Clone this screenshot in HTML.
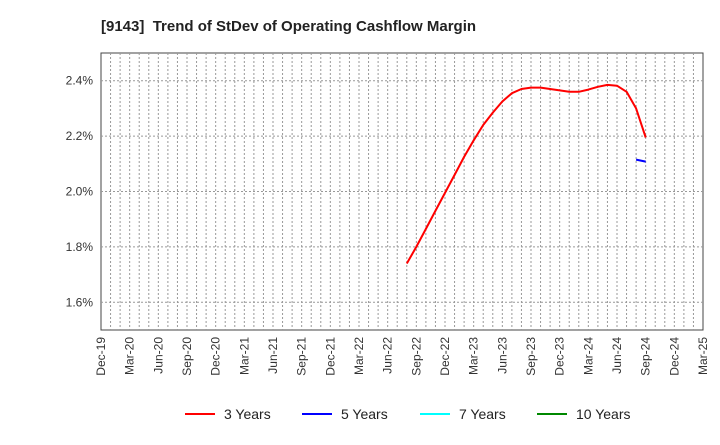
<!DOCTYPE html>
<html><head><meta charset="utf-8"><style>
body{margin:0;background:#fff;font-family:"Liberation Sans",sans-serif}
svg text{font-family:"Liberation Sans",sans-serif}
</style></head><body>
<svg width="720" height="440" xmlns="http://www.w3.org/2000/svg">
<text x="101" y="31" font-size="15" font-weight="bold" fill="#222" style="white-space:pre">[9143]  Trend of StDev of Operating Cashflow Margin</text>
<rect x="101" y="53" width="602" height="277" fill="#fff" stroke="#444" stroke-width="1"/>
<g id="grid"></g>
<g id="series"></g>
<g id="axes"></g>
<g>
<line x1="185" y1="414" x2="215" y2="414" stroke="#f00" stroke-width="2"/>
<text x="224" y="419" font-size="14" fill="#222">3 Years</text>
<line x1="302" y1="414" x2="332" y2="414" stroke="#00f" stroke-width="2"/>
<text x="341" y="419" font-size="14" fill="#222">5 Years</text>
<line x1="420" y1="414" x2="450" y2="414" stroke="#0ff" stroke-width="2"/>
<text x="459" y="419" font-size="14" fill="#222">7 Years</text>
<line x1="537" y1="414" x2="567" y2="414" stroke="#080" stroke-width="2"/>
<text x="576" y="419" font-size="14" fill="#222">10 Years</text>
</g>
</svg>
<script>
const xLabels=["Dec-19","Mar-20","Jun-20","Sep-20","Dec-20","Mar-21","Jun-21","Sep-21","Dec-21","Mar-22","Jun-22","Sep-22","Dec-22","Mar-23","Jun-23","Sep-23","Dec-23","Mar-24","Jun-24","Sep-24","Dec-24","Mar-25"];
const yTicks=[1.6,1.8,2.0,2.2,2.4];
const series3Start=32; // month index from Dec-19 (Aug-22)
const series3=[1.74,1.80,1.865,1.93,1.995,2.06,2.125,2.185,2.24,2.285,2.325,2.355,2.37,2.375,2.375,2.37,2.365,2.36,2.36,2.368,2.378,2.385,2.382,2.36,2.30,2.195];
const series5Start=56; // Aug-24
const series5=[2.115,2.108];
const NS="http://www.w3.org/2000/svg";
const X0=101,X1=703,Y0=53,Y1=330,months=63,yMin=1.5,yMax=2.5;
const xs=m=>X0+(X1-X0)*m/months;
const ys=v=>Y1-(Y1-Y0)*(v-yMin)/(yMax-yMin);
function mk(tag,attrs,parent){const e=document.createElementNS(NS,tag);for(const k in attrs)e.setAttribute(k,attrs[k]);parent.appendChild(e);return e;}
const grid=document.getElementById('grid'),axes=document.getElementById('axes'),ser=document.getElementById('series');
for(let m=1;m<months;m++){
  const l=mk('line',{x1:xs(m),x2:xs(m),y1:Y0,y2:Y1,stroke:'#999','stroke-dasharray':'2,2','stroke-width':1},grid);
  
  
}
yTicks.forEach(v=>{
  const l=mk('line',{x1:X0,x2:X1,y1:ys(v),y2:ys(v),stroke:'#999','stroke-dasharray':'2,2','stroke-width':1},grid);
  
  
  const t=mk('text',{x:X0-8,y:ys(v)+4,'text-anchor':'end','font-size':12,fill:'#333'},axes);
  t.textContent=v.toFixed(1)+'%';
  
  
});
xLabels.forEach((s,i)=>{
  const x=xs(i*3);
  const t=mk('text',{x:0,y:0,transform:`translate(${x+4},337) rotate(-90)`,'text-anchor':'end','font-size':12,fill:'#333'},axes);
  t.textContent=s;
  
  
});
function line(data,start,color,name){
  const pts=data.map((v,i)=>xs(start+i).toFixed(1)+','+ys(v).toFixed(1)).join(' ');
  const p=mk('polyline',{points:pts,fill:'none',stroke:color,'stroke-width':2,'stroke-linejoin':'round'},ser);
  
  
}
line(series3,series3Start,'#f00','series-3-years');
line(series5,series5Start,'#00f','series-5-years');
</script>
</body></html>
